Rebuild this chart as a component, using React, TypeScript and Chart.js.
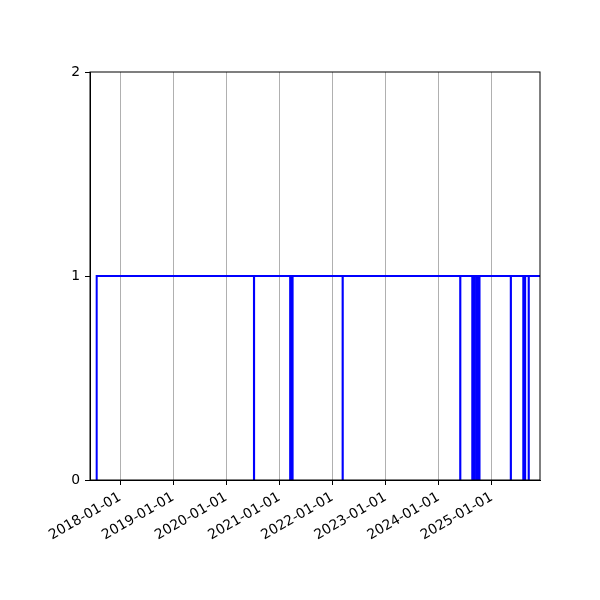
import { Chart, registerables } from 'chart.js';
import { useEffect, useRef } from 'react';

Chart.register(...registerables);

// days the status dropped to 0 and the day it came back to 1
const downDates = [
  '2017-07-23', '2020-07-10', '2021-03-16', '2021-03-24', '2021-04-01',
  '2022-03-12', '2024-05-29', '2024-08-20', '2024-08-28', '2024-09-05',
  '2024-09-20', '2024-09-28', '2024-10-08', '2025-05-12', '2025-08-06',
  '2025-08-18', '2025-09-12'
];
const upDates = [
  '2017-07-24', '2020-07-11', '2021-03-17', '2021-03-25', '2021-04-02',
  '2022-03-13', '2024-05-30', '2024-08-21', '2024-08-29', '2024-09-06',
  '2024-09-21', '2024-09-29', '2024-10-09', '2025-05-13', '2025-08-07',
  '2025-08-19', '2025-09-13'
];
const endDate = '2025-11-29';
const axisStart = '2017-06-08';
const axisEnd = '2025-11-29';
const yearTicks = [2018, 2019, 2020, 2021, 2022, 2023, 2024, 2025];
const yTicks = [0, 1, 2];

const ms = (s: string) => {
  const [y, m, d] = s.split('-').map(Number);
  return Date.UTC(y, m - 1, d);
};

const fmt = (v: number) => {
  const d = new Date(v);
  const p = (n: number) => String(n).padStart(2, '0');
  return `${d.getUTCFullYear()}-${p(d.getUTCMonth() + 1)}-${p(d.getUTCDate())}`;
};

const frame = {
  id: 'frame',
  afterDraw(chart: any) {
    const { ctx, chartArea: a } = chart;
    ctx.save();
    ctx.strokeStyle = '#000';
    ctx.lineWidth = 1;
    ctx.strokeRect(a.left, a.top, a.right - a.left, a.bottom - a.top);
    ctx.restore();
  }
};

const App = () => {
  const chartRef = useRef<HTMLCanvasElement>(null);

  useEffect(() => {
    const points: { x: number; y: number }[] = [];
    downDates.forEach((d, i) => {
      points.push({ x: ms(d), y: 0 });
      points.push({ x: ms(upDates[i]), y: 1 });
    });
    points.push({ x: ms(endDate), y: 1 });

    const font = { family: 'DejaVu Sans', size: 13.9 };

    const myChart = new Chart(chartRef.current!, {
      type: 'line',
      data: {
        datasets: [{
          data: points,
          borderColor: '#0000ff',
          borderWidth: 2,
          pointRadius: 0,
          stepped: 'before',
          fill: false
        }]
      },
      plugins: [frame],
      options: {
        animation: false,
        responsive: false,
        devicePixelRatio: 1,
        parsing: false,
        layout: { padding: { top: 72, right: 60, left: 0, bottom: 0 } },
        plugins: { legend: { display: false }, tooltip: { enabled: false } },
        scales: {
          x: {
            type: 'linear',
            min: ms(axisStart),
            max: ms(axisEnd),
            afterBuildTicks: (axis: any) => {
              axis.ticks = yearTicks.map((y) => ({ value: Date.UTC(y, 0, 1) }));
            },
            afterFit: (axis: any) => { axis.height = 120; },
            ticks: {
              callback: (v: any) => fmt(Number(v)),
              color: '#000',
              font,
              minRotation: 30,
              maxRotation: 30,
              padding: 4,
              autoSkip: false
            },
            grid: { color: '#b0b0b0', lineWidth: 1, tickColor: '#000', tickLength: 5 },
            border: { color: '#000', width: 1 }
          },
          y: {
            min: 0,
            max: 2,
            afterBuildTicks: (axis: any) => {
              axis.ticks = yTicks.map((v) => ({ value: v }));
            },
            afterFit: (axis: any) => { axis.width = 90; },
            ticks: { color: '#000', font, padding: 5 },
            grid: { color: 'transparent', tickColor: '#000', tickLength: 5 },
            border: { color: '#000', width: 1 }
          }
        }
      }
    } as any);

    return () => {
      if (myChart) {
        myChart.destroy();
      }
    };
  }, []);

  return (
    <div style={{ position: 'absolute', left: 0, top: 0, width: 600, height: 600, background: '#fff' }}>
      <canvas ref={chartRef} width={600} height={600}></canvas>
    </div>
  );
};

export default App;
